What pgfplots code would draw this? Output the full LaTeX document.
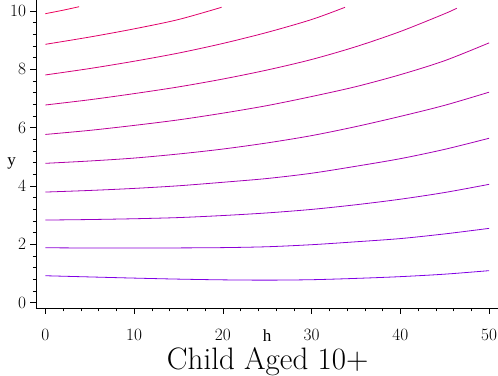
\documentclass[border=0pt]{standalone}
\usepackage{fontspec}
\usepackage{pgfplots}
\pgfplotsset{compat=1.18}
\newfontfamily\timesf{Liberation Serif}
\definecolor{c1}{rgb}{0.500,0,0.900}
\definecolor{c2}{rgb}{0.548,0,0.839}
\definecolor{c3}{rgb}{0.596,0,0.778}
\definecolor{c4}{rgb}{0.643,0,0.717}
\definecolor{c5}{rgb}{0.691,0,0.656}
\definecolor{c6}{rgb}{0.739,0,0.595}
\definecolor{c7}{rgb}{0.787,0,0.534}
\definecolor{c8}{rgb}{0.834,0,0.473}
\definecolor{c9}{rgb}{0.882,0,0.412}
\definecolor{c10}{rgb}{0.930,0,0.350}
\begin{document}
\begin{tikzpicture}
\begin{axis}[
  scale only axis, width=462pt, height=308.3pt,
  xmin=-1.05, xmax=51, ymin=-0.19, ymax=10.38,
  axis lines=left, axis line style={-, line width=0.7pt, black},
  tick align=outside, tick style={black, line width=0.6pt},
  major tick length=5.5pt, minor tick length=3pt,
  xtick={0,10,...,50}, minor x tick num=4,
  ytick={0,2,...,10}, minor y tick num=4,
  ticklabel style={font=\timesf\fontsize{17}{17}\selectfont},
  xticklabel style={anchor=base, inner sep=0pt, text depth=0pt, yshift=-27pt},
  yticklabel style={anchor=east, xshift=-1pt},
  clip mode=individual,
  every axis plot/.append style={line width=0.8pt, smooth},
]
\addplot[c1] coordinates {(0,0.926)(5,0.885)(10,0.845)(15,0.81)(20,0.785)(25,0.775)(30,0.79)(35,0.835)(40,0.895)(45,0.98)(50,1.10)};
\addplot[c2] coordinates {(0,1.885)(5,1.877)(10,1.875)(15,1.88)(20,1.89)(25,1.92)(30,1.99)(35,2.09)(40,2.20)(45,2.36)(50,2.55)};
\addplot[c3] coordinates {(0,2.835)(5,2.853)(10,2.88)(15,2.92)(20,2.99)(25,3.08)(30,3.20)(35,3.36)(40,3.55)(45,3.78)(50,4.06)};
\addplot[c4] coordinates {(0,3.795)(5,3.85)(10,3.92)(15,4.01)(20,4.13)(25,4.26)(30,4.44)(35,4.68)(40,4.94)(45,5.26)(50,5.64)};
\addplot[c5] coordinates {(0,4.78)(5,4.86)(10,4.96)(15,5.10)(20,5.27)(25,5.48)(30,5.73)(35,6.04)(40,6.39)(45,6.77)(50,7.22)};
\addplot[c6] coordinates {(0,5.77)(5,5.91)(10,6.08)(15,6.27)(20,6.50)(25,6.76)(30,7.07)(35,7.41)(40,7.82)(45,8.30)(50,8.91)};
\addplot[c7] coordinates {(0,6.78)(5,6.96)(10,7.17)(15,7.40)(20,7.67)(25,7.98)(30,8.34)(35,8.78)(40,9.30)(45,9.91)(46.36,10.10)};
\addplot[c8] coordinates {(0,7.81)(5,8.03)(10,8.28)(15,8.56)(20,8.89)(25,9.27)(30,9.71)(33.77,10.13)};
\addplot[c9] coordinates {(0,8.86)(5,9.11)(10,9.39)(15,9.71)(19.86,10.13)};
\addplot[c10] coordinates {(0,9.91)(2,10.03)(3.81,10.15)};
\node[anchor=base, inner sep=0pt, text depth=0pt, font=\timesf\fontsize{17}{17}\selectfont] at (axis cs:25,-0.19) [yshift=-33pt] {h};
\node[anchor=base, inner sep=0pt, font=\timesf\fontsize{17}{17}\selectfont] at (axis cs:-1.05,4.69) [xshift=-24.3pt] {y};
\node[anchor=base, inner sep=0pt, font=\fontsize{31}{31}\selectfont] at (axis cs:25.06,-0.19) [yshift=-61pt] {Child Aged 10+};
\end{axis}
\pgfresetboundingbox
\path (current axis.south west) ++(-36pt,-67.7pt) rectangle (current axis.north east);
\end{tikzpicture}
\end{document}
